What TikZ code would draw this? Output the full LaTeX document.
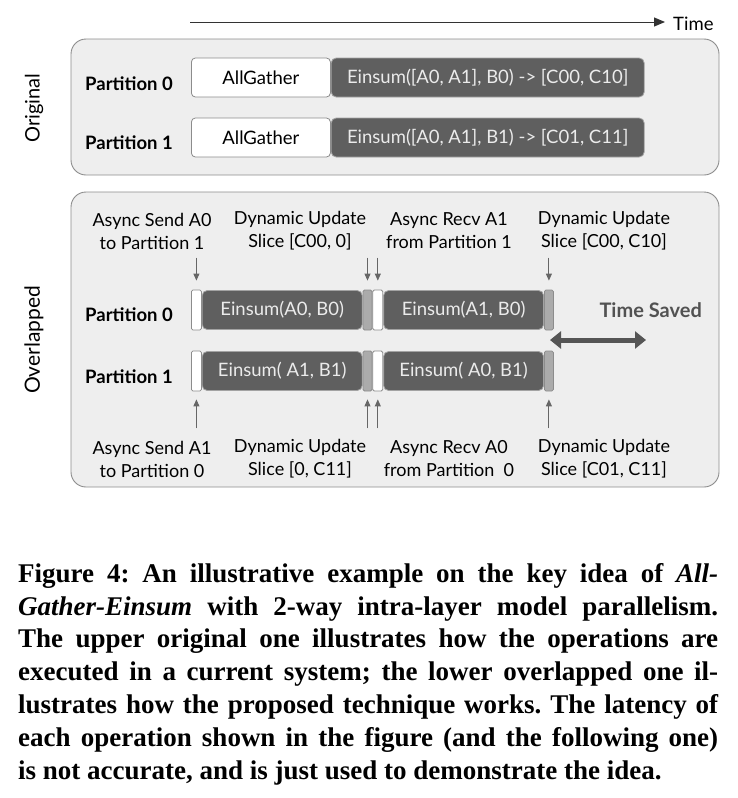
\documentclass[tikz,border=0pt]{standalone}
\usepackage{xcolor}
\usepackage{fontspec}
\setmainfont{Liberation Serif}
\newfontfamily\figfont{Lato}
\usepackage{tikz}
\usetikzlibrary{positioning, arrows.meta}
\definecolor{panelgray}{HTML}{EEEEEE}
\definecolor{edgegray}{HTML}{8C8C8C}
\definecolor{opgray}{HTML}{5F5F5F}
\definecolor{syncgray}{HTML}{ABABAB}
\definecolor{arrowgray}{HTML}{666666}
\definecolor{savedgray}{HTML}{555555}

\tikzset{
  panel/.style={draw=edgegray, fill=panelgray, rounded corners=15pt, line width=0.9pt},
  gatherbox/.style={draw=edgegray, fill=white, rounded corners=4pt, line width=0.8pt,
    minimum height=39pt, inner sep=0pt, anchor=west},
  opbox/.style={draw=edgegray!80, fill=opgray, rounded corners=5pt, line width=0.8pt,
    text=white!92!black, minimum height=39pt, inner sep=0pt, anchor=west},
  sendbox/.style={draw=edgegray, fill=white, rounded corners=1.5pt, line width=0.8pt,
    minimum width=10pt, minimum height=40pt, inner sep=0pt, anchor=west},
  syncbox/.style={draw=edgegray, fill=syncgray, rounded corners=1.5pt, line width=0.8pt,
    minimum width=9pt, minimum height=40pt, inner sep=0pt, anchor=west},
  partlabel/.style={font=\figfont\fontsize{18.5}{22}\selectfont\bfseries},
  eventlabel/.style={align=center, font=\figfont\fontsize{18}{23}\selectfont},
  tick/.style={-{Triangle[length=7pt, width=6pt]}, draw=arrowgray, line width=0.9pt}
}

\begin{document}
\begin{tikzpicture}[x=1pt, y=-1pt, font=\figfont\fontsize{18.5}{22}\selectfont]
  \useasboundingbox (0,0) rectangle (737,798);

  % time axis
  \coordinate (tstart) at (190,22);
  \coordinate (tend) at (665,22);
  \draw[-{Triangle[length=11pt, width=9pt]}, draw=black!80, line width=1pt] (tstart) -- (tend);
  \node[anchor=west, inner sep=0pt, xshift=8pt, font=\figfont\fontsize{18.5}{21}\selectfont] (time) at ([yshift=-2pt]tend) {Time};

  % original schedule
  \draw[panel] (71,39) rectangle (719,175);
  \node[rotate=90, font=\figfont\fontsize{20}{24}\selectfont] (orig) at (34,108) {Original};
  \node[partlabel] (op0) at (129,84) {Partition 0};
  \node[partlabel] (op1) at (129,143) {Partition 1};
  \node[gatherbox, minimum width=139pt] (ag0) at (191,77.5) {AllGather};
  \node[opbox, minimum width=313pt] (ein0) at (ag0.east) {Einsum([A0, A1], B0) -> [C00, C10]};
  \node[gatherbox, minimum width=139pt] (ag1) at (191,137.5) {AllGather};
  \node[opbox, minimum width=313pt] (ein1) at (ag1.east) {Einsum([A0, A1], B1) -> [C01, C11]};

  % overlapped schedule
  \draw[panel] (71,192) rectangle (719,487);
  \node[rotate=90, font=\figfont\fontsize{21}{24}\selectfont] (over) at (34,340) {Overlapped};
  \node[partlabel] (pp0) at (129,315) {Partition 0};
  \node[partlabel] (pp1) at (129,377) {Partition 1};

  \node[sendbox] (sa0) at (191,310) {};
  \node[opbox, minimum width=160pt] (ea0) at (sa0.east) {Einsum(A0, B0)};
  \node[syncbox] (ua0) at (ea0.east) {};
  \node[sendbox] (ra0) at (ua0.east) {};
  \node[opbox, minimum width=160pt] (eb0) at (ra0.east) {Einsum(A1, B0)};
  \node[syncbox] (ub0) at (eb0.east) {};

  \node[sendbox] (sa1) at (191,371) {};
  \node[opbox, minimum width=160pt] (ea1) at (sa1.east) {Einsum( A1, B1)};
  \node[syncbox] (ua1) at (ea1.east) {};
  \node[sendbox] (ra1) at (ua1.east) {};
  \node[opbox, minimum width=160pt] (eb1) at (ra1.east) {Einsum( A0, B1)};
  \node[syncbox] (ub1) at (eb1.east) {};

  % events
  \node[eventlabel] (ev0) at (152,231) {Async Send A0\\to Partition 1};
  \node[eventlabel] (ev1) at (300,231) {Dynamic Update\\Slice [C00, 0]};
  \node[eventlabel] (ev2) at (449,231) {Async Recv A1\\from Partition 1};
  \node[eventlabel] (ev3) at (604,231) {Dynamic Update\\Slice [C00, C10]};
  \node[eventlabel] (ev4) at (152,459) {Async Send A1\\to Partition 0};
  \node[eventlabel] (ev5) at (300,459) {Dynamic Update\\Slice [0, C11]};
  \node[eventlabel] (ev6) at (449,459) {Async Recv A0\\from Partition~~0};
  \node[eventlabel] (ev7) at (604,459) {Dynamic Update\\Slice [C01, C11]};

  \foreach \b in {sa0, ua0, ra0, ub0}
    \draw[tick] ([yshift=32pt]\b.north) -- ([yshift=9pt]\b.north);
  \foreach \b in {sa1, ua1, ra1, ub1}
    \draw[tick] ([yshift=-37pt]\b.south) -- ([yshift=-8pt]\b.south);

  % saving
  \node[anchor=west, font=\figfont\fontsize{20}{24}\selectfont\bfseries, text=black!68] (saved) at (596,310) {Time Saved};
  \coordinate (savedL) at (550,340);
  \coordinate (savedR) at (646,340);
  \draw[{Triangle[length=11pt, width=17pt]}-{Triangle[length=11pt, width=17pt]},
        draw=savedgray, fill=savedgray, line width=5pt] (savedL) -- (savedR);

  % caption
  \node[anchor=north west, text width=700pt, align=justify, inner sep=0pt,
        font=\fontsize{27}{32.8}\selectfont\bfseries\frenchspacing] (caption) at (18,563) {%
    Figure 4: An illustrative example on the key idea of \textit{All-}\linebreak
    \textit{Gather-Einsum} with 2-way intra-layer model parallelism.\linebreak
    The upper original one illustrates how the operations are\linebreak
    executed in a current system; the lower overlapped one il-\linebreak
    lustrates how the proposed technique works. The latency of\linebreak
    each operation shown in the figure (and the following one)\linebreak
    is not accurate, and is just used to demonstrate the idea.\par};
\end{tikzpicture}
\end{document}
